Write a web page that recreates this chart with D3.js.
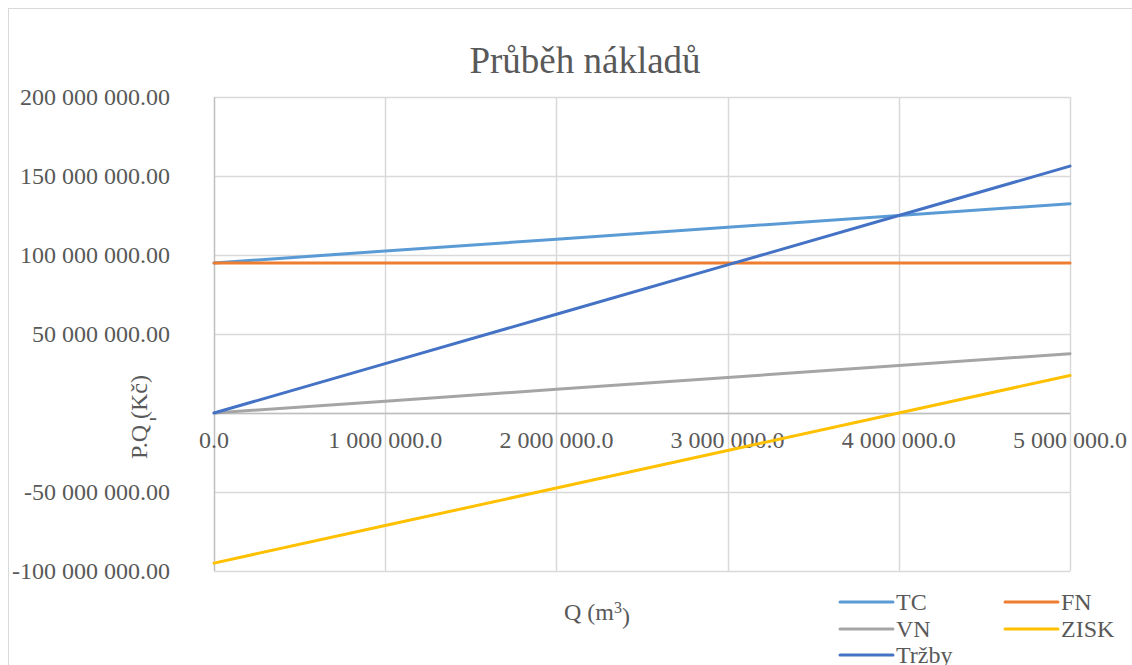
<!DOCTYPE html>
<html>
<head>
<meta charset="utf-8">
<script src="https://cdn.jsdelivr.net/npm/d3@7"></script>
<style>
  body { margin: 0; background: #fff; }
  text { font-family: "Liberation Serif", "Times New Roman", serif; fill: #595959; }
</style>
</head>
<body>
<div id="graf"></div>
<script>
// data (Kč)
var mnozstvi = [0, 1000000, 2000000, 3000000, 4000000, 5000000];
var tc    = [95000000, 102500000, 110000000, 117500000, 125000000, 132500000];
var fn    = [95000000, 95000000, 95000000, 95000000, 95000000, 95000000];
var vn    = [0, 7500000, 15000000, 22500000, 30000000, 37500000];
var zisk  = [-95000000, -71250000, -47500000, -23750000, 0, 23750000];
var trzby = [0, 31250000, 62500000, 93750000, 125000000, 156250000];
var yTicks = [-100000000, -50000000, 0, 50000000, 100000000, 150000000, 200000000];
var xTicks = [0, 1000000, 2000000, 3000000, 4000000, 5000000];

var serie = [
  {name: "TC", values: tc, color: "#5B9BD5"},
  {name: "FN", values: fn, color: "#ED7D31"},
  {name: "VN", values: vn, color: "#A5A5A5"},
  {name: "ZISK", values: zisk, color: "#FFC000"},
  {name: "Tržby", values: trzby, color: "#4472C4"}
];

var W = 1132, H = 665;
var margin = {top: 97, right: 62, bottom: 94, left: 214},
    width = W - margin.left - margin.right,
    height = H - margin.top - margin.bottom;

var loc = d3.formatLocale({decimal: ".", thousands: " ", grouping: [3], currency: ["", ""], minus: "-"});
var fmtY = loc.format(",.2f"), fmtX = loc.format(",.1f");

var svg = d3.select("#graf").append("svg")
    .attr("width", W).attr("height", H);

// ramecek grafu
svg.append("rect")
  .attr("x", 8.5).attr("y", 8.5).attr("width", W + 10).attr("height", H + 10)
  .attr("fill", "none").attr("stroke", "#D9D9D9");

var g = svg.append("g")
  .attr("transform", "translate(" + margin.left + "," + margin.top + ")");

var x = d3.scaleLinear().domain([0, 5000000]).range([0, width]);
var y = d3.scaleLinear().domain([-100000000, 200000000]).range([height, 0]);

// mrizka
g.selectAll("line.hgrid")
  .data(yTicks)
  .enter().append("line")
  .attr("class", "hgrid")
  .attr("x1", 0).attr("x2", width)
  .attr("y1", d => Math.round(y(d)) + 0.5).attr("y2", d => Math.round(y(d)) + 0.5)
  .attr("stroke", "#D9D9D9").attr("stroke-width", 1.5);

g.selectAll("line.vgrid")
  .data(xTicks)
  .enter().append("line")
  .attr("class", "vgrid")
  .attr("y1", 0).attr("y2", height)
  .attr("x1", d => Math.round(x(d)) + 0.5).attr("x2", d => Math.round(x(d)) + 0.5)
  .attr("stroke", d => d === 0 ? "#BFBFBF" : "#D9D9D9").attr("stroke-width", 1.5);

// osa x (nula)
g.append("line")
  .attr("x1", 0).attr("x2", width)
  .attr("y1", Math.round(y(0)) + 0.5).attr("y2", Math.round(y(0)) + 0.5)
  .attr("stroke", "#BFBFBF").attr("stroke-width", 1.5);

// popisky osy y
g.selectAll("text.ylab")
  .data(yTicks)
  .enter().append("text")
  .attr("class", "ylab")
  .attr("x", d => d === 0 ? -57 : -44)
  .attr("y", d => y(d))
  .attr("dy", d => d === 0 ? "0.5em" : "0.35em")
  .attr("text-anchor", "end")
  .style("font-size", "24px")
  .text(d => d === 0 ? "-" : fmtY(d));

// popisky osy x
g.selectAll("text.xlab")
  .data(xTicks)
  .enter().append("text")
  .attr("class", "xlab")
  .attr("x", d => x(d))
  .attr("y", y(0) + 27)
  .attr("dy", "0.35em")
  .attr("text-anchor", "middle")
  .style("font-size", "24px")
  .text(d => fmtX(d));

// cary
var line = d3.line()
  .x((d, i) => x(mnozstvi[i]))
  .y(d => y(d));

g.selectAll("path.serie")
  .data(serie)
  .enter().append("path")
  .attr("class", "serie")
  .attr("d", d => line(d.values))
  .attr("fill", "none")
  .attr("stroke", d => d.color)
  .attr("stroke-width", 3)
  .attr("stroke-linecap", "round");

// nadpis
svg.append("text")
  .attr("x", 585).attr("y", 60)
  .attr("dy", "0.35em")
  .attr("text-anchor", "middle")
  .style("font-size", "37px")
  .text("Průběh nákladů");

// nazvy os
svg.append("text")
  .attr("transform", "translate(139,417) rotate(-90)")
  .attr("dy", "0.35em")
  .attr("text-anchor", "middle")
  .style("font-size", "24px")
  .text("P.Q (Kč)");

var xt = svg.append("text")
  .attr("x", 597).attr("y", 612)
  .attr("dy", "0.35em")
  .attr("text-anchor", "middle")
  .style("font-size", "24px");
xt.append("tspan").text("Q (m");
xt.append("tspan").attr("dy", "-0.45em").style("font-size", "16px").text("3");
xt.append("tspan").attr("dy", "0.45em").text(")");

// legenda
var legPos = [[840, 602], [1005, 602], [840, 629], [1005, 629], [840, 655]];
var leg = svg.selectAll("g.leg")
  .data(serie)
  .enter().append("g")
  .attr("class", "leg")
  .attr("transform", (d, i) => "translate(" + legPos[i][0] + "," + legPos[i][1] + ")");
leg.append("line")
  .attr("x1", 0).attr("x2", 53).attr("y1", 0).attr("y2", 0)
  .attr("stroke", d => d.color).attr("stroke-width", 3).attr("stroke-linecap", "round");
leg.append("text")
  .attr("x", 56).attr("dy", "0.35em")
  .style("font-size", "24px")
  .text(d => d.name);
</script>
</body>
</html>
